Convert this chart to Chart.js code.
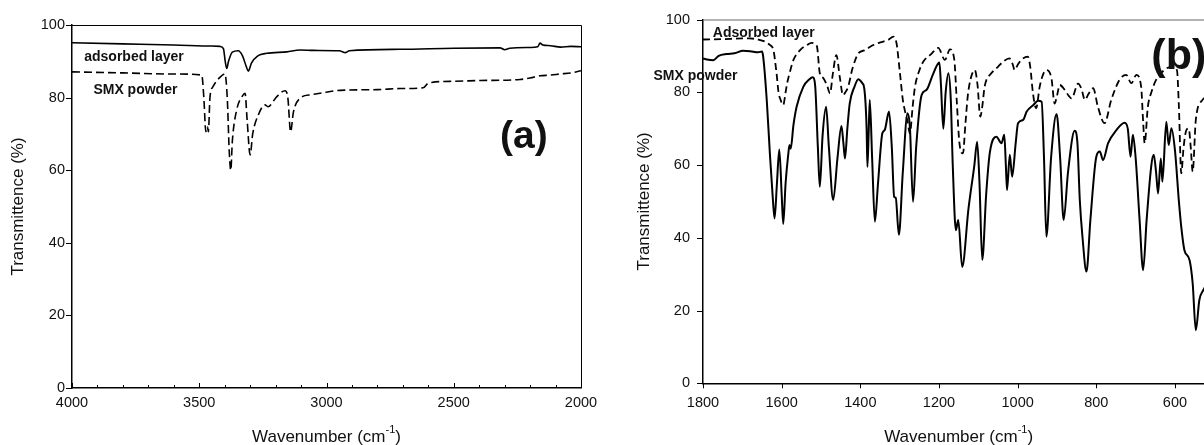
<!DOCTYPE html>
<html>
<head>
<meta charset="utf-8">
<script src="https://cdn.jsdelivr.net/npm/chart.js@4.4.1/dist/chart.umd.min.js"></script>
<style>
  html, body { margin: 0; padding: 0; background: #fff; overflow: hidden; width: 1204px; height: 445px; }
  #wrapA { position: absolute; left: 0; top: 0; width: 600px; height: 445px; }
  #wrapB { position: absolute; left: 620px; top: 0; width: 620px; height: 445px; }
</style>
</head>
<body>
<div id="wrapA"><canvas id="chartA" width="600" height="445"></canvas></div>
<div id="wrapB"><canvas id="chartB" width="620" height="445"></canvas></div>
<script>
// Panel (a): 4000-2000 cm-1
const aAdsWave = [4000, 3800, 3600, 3450, 3418, 3405, 3398, 3392, 3385, 3370, 3347, 3330, 3315, 3307, 3295, 3270, 3235, 3156, 3104, 3050, 2950, 2925, 2910, 2711, 2500, 2318, 2300, 2280, 2200, 2170, 2161, 2150, 2120, 2080, 2040, 2000];
const aAdsT    = [95.1, 94.8, 94.5, 94.2, 94.1, 93.5, 90, 88, 90, 92.5, 92.9, 91.5, 88.5, 87.3, 89.5, 91.5, 92.2, 92.6, 93.1, 93, 92.9, 92.4, 92.9, 93.3, 93.6, 93.7, 93.2, 93.6, 93.8, 94, 95, 94.5, 94.3, 93.9, 94.1, 94];

const aSmxWave = [4000, 3800, 3600, 3490, 3482, 3474, 3468, 3464, 3458, 3446, 3420, 3399, 3390, 3382, 3376, 3370, 3353, 3330, 3320, 3312, 3300, 3290, 3268, 3242, 3230, 3196, 3163, 3152, 3141, 3130, 3104, 3060, 3025, 2947, 2800, 2711, 2620, 2600, 2500, 2397, 2240, 2200, 2161, 2120, 2082, 2040, 2000];
const aSmxT    = [87.1, 86.8, 86.5, 86.2, 80, 70.6, 72, 70.6, 80, 83, 85.5, 86.5, 80, 65, 60, 68, 76.6, 80.5, 81.2, 74, 64.2, 70, 75.2, 78, 77.5, 80.2, 81.9, 80, 70.6, 76, 79.8, 80.8, 81.2, 82, 82.2, 82.5, 82.7, 84, 84.5, 84.7, 85, 85.4, 86, 86.2, 86.5, 86.8, 87.4];

// Panel (b): 1800-500 cm-1
const bSmxWave = [1800, 1790, 1774, 1760, 1740, 1720, 1698, 1680, 1660, 1650, 1647, 1638, 1630, 1622, 1618, 1612, 1606, 1600, 1596, 1590, 1583, 1580, 1577, 1570, 1562, 1545, 1530, 1521, 1515, 1508, 1503, 1496, 1487, 1480, 1469, 1458, 1448, 1443, 1439, 1433, 1427, 1415, 1405, 1395, 1390, 1384, 1382, 1379, 1376, 1370, 1363, 1355, 1344, 1338, 1327, 1320, 1314, 1310, 1302, 1292, 1280, 1274, 1266, 1258, 1244, 1232, 1215, 1199, 1195, 1189, 1183, 1176, 1170, 1165, 1157, 1151, 1141, 1125, 1110, 1103, 1097, 1090, 1080, 1071, 1054, 1041, 1034, 1030, 1027, 1020, 1014, 1005, 999, 986, 977, 960, 948, 939, 933, 927, 915, 901, 892, 883, 872, 855, 848, 842, 835, 825, 815, 800, 791, 783, 770, 749, 728, 720, 713, 707, 700, 690, 681, 672, 660, 654, 648, 643, 636, 632, 622, 616, 609, 600, 590, 584, 576, 563, 555, 547, 538, 528, 515];
const bSmxT    = [89.3, 89.0, 88.8, 90.0, 90.5, 90.7, 91.4, 91.3, 91.0, 91.2, 89.8, 78, 63.2, 50, 45.3, 55, 64.3, 52, 43.8, 55, 63.2, 65.5, 64.5, 71, 76, 81.5, 83.5, 84.1, 82, 65, 54, 68, 76, 65, 50.4, 62, 70.7, 66, 61.8, 70, 76.9, 81.5, 83.6, 82.5, 81.1, 70, 59.5, 68, 77.9, 62, 44.4, 55, 68.7, 69.6, 74.7, 65, 51.3, 51, 40.8, 58, 74.2, 70.5, 49.9, 65, 79.3, 80.6, 85, 88.2, 82, 70, 80, 85.2, 78, 60, 42.1, 44.9, 32, 48, 60, 66.4, 55, 33.9, 52, 63.2, 67.8, 66, 68.3, 60, 53.1, 62.8, 56.8, 66, 71.5, 72.4, 74.7, 76.5, 77.7, 77.4, 62, 40.3, 62, 74, 62, 44.9, 58, 69.4, 66, 50.4, 40, 30.7, 45, 62.3, 63.7, 61.4, 66, 69.6, 71.6, 70, 62.3, 68.3, 62, 45, 31.1, 45, 60, 62.8, 58, 52.2, 61.8, 55.4, 71.9, 65.5, 70.1, 64, 50, 43, 36.6, 33.9, 27.5, 14.6, 22.9, 25.6, 28];

const bAdsWave = [1800, 1750, 1700, 1681, 1660, 1642, 1630, 1621, 1613, 1608, 1603, 1596, 1590, 1586, 1578, 1570, 1553, 1535, 1524, 1515, 1510, 1503, 1495, 1485, 1477, 1470, 1461, 1452, 1444, 1438, 1431, 1420, 1405, 1390, 1367, 1340, 1329, 1316, 1308, 1300, 1292, 1287, 1280, 1274, 1267, 1261, 1250, 1240, 1220, 1202, 1185, 1172, 1161, 1155, 1148, 1139, 1133, 1127, 1120, 1109, 1102, 1095, 1090, 1084, 1067, 1050, 1037, 1021, 1012, 1008, 1000, 991, 974, 968, 961, 953, 944, 935, 927, 914, 906, 900, 893, 880, 870, 863, 846, 838, 829, 820, 808, 796, 779, 762, 741, 724, 711, 698, 686, 681, 677, 669, 660, 648, 627, 609, 595, 590, 584, 578, 571, 565, 560, 555, 547, 530, 515];
const bAdsT    = [94.5, 94.6, 94.8, 94.8, 94.5, 93.9, 93, 91.6, 85.2, 80, 78, 76.5, 80, 82.5, 86, 88.9, 91.6, 93, 93.6, 93.3, 92.5, 85.2, 84, 82, 79.7, 85, 90.2, 84, 79.2, 80, 81.5, 86.5, 90.7, 91.5, 93, 94, 94.4, 95.3, 93.5, 86, 78, 75.1, 72, 68.7, 76, 81.5, 86, 88.4, 90.5, 92.2, 88.9, 91.8, 88.9, 78, 66, 63.2, 71, 78.8, 83.5, 86.1, 82, 73.3, 76, 81.5, 85.2, 87, 88.4, 89.3, 87.5, 86.1, 87.5, 88.9, 89.8, 87, 79.7, 75.6, 81.5, 85, 86.1, 83.8, 76.9, 79, 82, 80.6, 79, 78.3, 82.4, 81, 77.9, 79.5, 81.1, 76, 71.5, 77.9, 83.4, 84.8, 82.5, 84.8, 81.5, 72, 66, 76, 80, 83.4, 86.1, 87, 86.1, 76, 57.7, 65, 69.6, 70, 65, 58.2, 72.4, 77.9, 79];

const aTicks = [4000, 3500, 3000, 2500, 2000];
const bTicks = [1800, 1600, 1400, 1200, 1000, 800, 600];
const yTicks = [0, 20, 40, 60, 80, 100];

Chart.defaults.font.family = '"Liberation Sans", Arial, sans-serif';
Chart.defaults.color = '#111';

const toXY = (w, t) => w.map((v, i) => ({ x: v, y: t[i] }));

// draws tick marks, frame, x title with superscript and in-plot labels
const decor = {
  id: 'decor',
  afterDraw(chart, args, o) {
    const { ctx, chartArea: a, scales: { x, y } } = chart;
    ctx.save();
    ctx.strokeStyle = o.frameColor;
    ctx.lineWidth = 1;
    ctx.beginPath();
    ctx.moveTo(a.left, a.top + 0.5);
    ctx.lineTo(a.right + 0.5, a.top + 0.5);
    ctx.lineTo(a.right + 0.5, a.bottom);
    ctx.stroke();

    ctx.strokeStyle = '#000';
    ctx.lineWidth = 1;
    ctx.beginPath();
    x.ticks.forEach(t => {
      const px = Math.round(x.getPixelForValue(t.value)) + 0.5;
      ctx.moveTo(px, a.bottom);
      ctx.lineTo(px, a.bottom + o.xTickLen);
    });
    if (o.minorStep) {
      for (let v = x.min; v <= x.max; v += o.minorStep) {
        const px = Math.round(x.getPixelForValue(v)) + 0.5;
        ctx.moveTo(px, a.bottom);
        ctx.lineTo(px, a.bottom + o.minorLen);
      }
    }
    y.ticks.forEach(t => {
      const py = Math.round(y.getPixelForValue(t.value)) + 0.5;
      ctx.moveTo(a.left, py);
      ctx.lineTo(a.left - o.yTickLen, py);
    });
    ctx.stroke();

    // x title: Wavenumber (cm^-1)
    ctx.fillStyle = '#111';
    ctx.textBaseline = 'alphabetic';
    ctx.textAlign = 'left';
    const big = '17px "Liberation Sans", Arial, sans-serif';
    const small = '11px "Liberation Sans", Arial, sans-serif';
    ctx.font = big;
    const w1 = ctx.measureText('Wavenumber (cm').width;
    const w3 = ctx.measureText(')').width;
    ctx.font = small;
    const w2 = ctx.measureText('-1').width;
    let sx = (a.left + a.right) / 2 - (w1 + w2 + w3) / 2;
    const base = 442;
    ctx.font = big;
    ctx.fillText('Wavenumber (cm', sx, base);
    ctx.font = small;
    ctx.fillText('-1', sx + w1, base - 9);
    ctx.font = big;
    ctx.fillText(')', sx + w1 + w2, base);

    // in-plot labels anchored in data coordinates
    o.labels.forEach(l => {
      ctx.font = 'bold ' + l.size + 'px "Liberation Sans", Arial, sans-serif';
      ctx.fillText(l.text, x.getPixelForValue(l.w), y.getPixelForValue(l.t));
    });
    ctx.restore();
  }
};

function makeChart(id, cfg) {
  return new Chart(document.getElementById(id), {
    type: 'line',
    data: { datasets: cfg.datasets },
    plugins: [decor],
    options: {
      responsive: false,
      animation: false,
      devicePixelRatio: 1,
      layout: { padding: cfg.padding },
      elements: { point: { radius: 0 }, line: { cubicInterpolationMode: 'monotone' } },
      plugins: { legend: { display: false }, tooltip: { enabled: false }, decor: cfg.decor },
      scales: {
        x: {
          type: 'linear',
          reverse: true,
          min: cfg.xMin,
          max: cfg.xMax,
          grid: { display: false, drawTicks: false },
          border: { display: true, color: '#000', width: 1.5 },
          afterBuildTicks: s => { s.ticks = cfg.xTicks.map(v => ({ value: v })); },
          afterFit: s => { s.height = cfg.xHeight; s.paddingLeft = 0; s.paddingRight = 0; },
          ticks: { font: { size: 14.5 }, padding: cfg.xPad, maxRotation: 0, autoSkip: false, callback: v => String(v) }
        },
        y: {
          min: 0,
          max: 100,
          grid: { display: false, drawTicks: false },
          border: { display: true, color: '#000', width: 1.5 },
          afterBuildTicks: s => { s.ticks = yTicks.map(v => ({ value: v })); },
          afterFit: s => { s.width = cfg.yWidth; s.paddingTop = 0; s.paddingBottom = 0; },
          ticks: { font: { size: 14.5 }, padding: cfg.yPad, callback: v => String(v) },
          title: { display: true, text: 'Transmittence (%)', font: { size: 17 }, padding: { top: cfg.titlePad, bottom: 0 } }
        }
      }
    }
  });
}

makeChart('chartA', {
  xMin: 2000, xMax: 4000, xTicks: aTicks,
  padding: { top: 25, right: 19, left: 0, bottom: 0 },
  xHeight: 57, yWidth: 72, xPad: 6, yPad: 7, titlePad: 8,
  datasets: [
    { label: 'adsorbed layer', data: toXY(aAdsWave, aAdsT), borderColor: '#000', borderWidth: 1.6 },
    { label: 'SMX powder', data: toXY(aSmxWave, aSmxT), borderColor: '#000', borderWidth: 1.6, borderDash: [8, 4] }
  ],
  decor: {
    frameColor: '#000', xTickLen: -5, minorStep: 100, minorLen: -3, yTickLen: 6,
    labels: [
      { text: 'adsorbed layer', w: 3952, t: 90.1, size: 14 },
      { text: 'SMX powder', w: 3916, t: 81.1, size: 14 },
      { text: '(a)', w: 2318, t: 66, size: 39 }
    ]
  }
});

makeChart('chartB', {
  xMin: 500, xMax: 1800, xTicks: bTicks,
  padding: { top: 19.5, right: 25.7, left: 0, bottom: 0 },
  xHeight: 61.7, yWidth: 83, xPad: 11, yPad: 13, titlePad: 14,
  datasets: [
    { label: 'SMX powder', data: toXY(bSmxWave, bSmxT), borderColor: '#000', borderWidth: 2 },
    { label: 'Adsorbed layer', data: toXY(bAdsWave, bAdsT), borderColor: '#000', borderWidth: 1.8, borderDash: [7, 4] }
  ],
  decor: {
    frameColor: '#666', xTickLen: 5, minorStep: 0, minorLen: 0, yTickLen: 6,
    labels: [
      { text: 'Adsorbed layer', w: 1775, t: 95.2, size: 14 },
      { text: 'SMX powder', w: 1926, t: 83.4, size: 14 },
      { text: '(b)', w: 660, t: 86.3, size: 43 }
    ]
  }
});
</script>
</body>
</html>
